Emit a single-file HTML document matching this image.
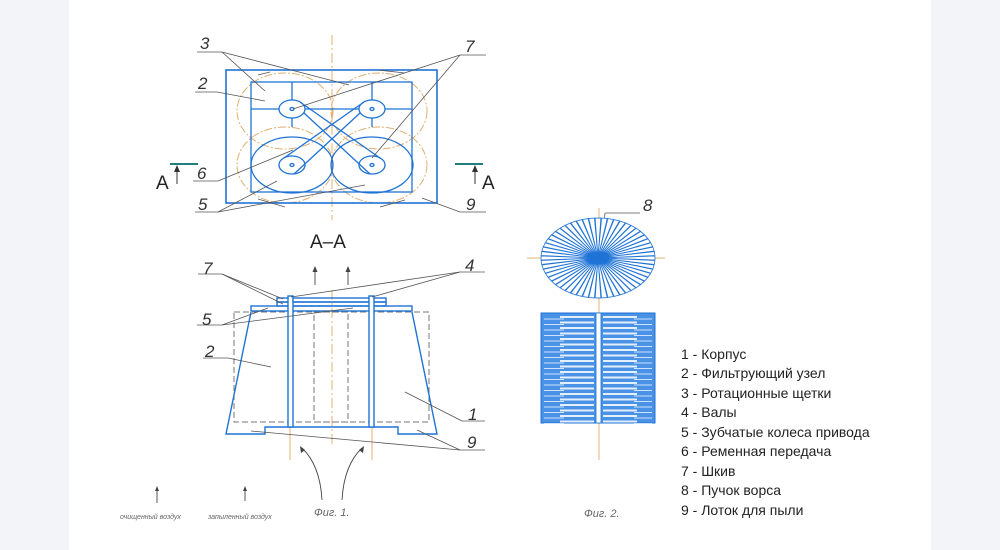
<!DOCTYPE html>
<html><head><meta charset="utf-8"><style>
html,body{margin:0;padding:0;background:#f3f4fa;}
#w{position:absolute;left:69px;top:0;width:862px;height:550px;background:#fff;}
svg{position:absolute;left:0;top:0;}
.t{font-family:"Liberation Sans",sans-serif;}
.n{font-family:"Liberation Sans",sans-serif;font-style:italic;font-size:17px;fill:#333;}
</style></head><body>
<div id="w"></div>
<svg width="1000" height="550" viewBox="0 0 1000 550">
<g fill="none" stroke-width="1">
<!-- top view orange circles -->
<g stroke="#e0b070" stroke-dasharray="8,2,2,2">
<ellipse cx="285" cy="111" rx="48" ry="38"/><ellipse cx="379" cy="111" rx="48" ry="38"/>
<ellipse cx="285" cy="165" rx="48" ry="38"/><ellipse cx="379" cy="165" rx="48" ry="38"/>
</g>
<line x1="332" y1="35" x2="332" y2="220" stroke="#e0b070" stroke-dasharray="10,3,2,3"/>
<g stroke="#1f73d6" stroke-width="1.3">
<rect x="226" y="70" width="211" height="133" stroke-width="1.6"/>
<rect x="251" y="82" width="161" height="110"/>
<line x1="251" y1="109" x2="412" y2="109"/>
<line x1="292" y1="82" x2="292" y2="127"/><line x1="372" y1="82" x2="372" y2="127"/>
<ellipse cx="292" cy="109" rx="13" ry="9" fill="#fff"/><ellipse cx="372" cy="109" rx="13" ry="9" fill="#fff"/>
<ellipse cx="292" cy="165" rx="41" ry="28"/><ellipse cx="372" cy="165" rx="41" ry="28"/>
<ellipse cx="292" cy="165" rx="13" ry="9"/><ellipse cx="372" cy="165" rx="13" ry="9"/>
<ellipse cx="292" cy="109" rx="2" ry="1.5"/><ellipse cx="372" cy="109" rx="2" ry="1.5"/>
<ellipse cx="292" cy="165" rx="2" ry="1.5"/><ellipse cx="372" cy="165" rx="2" ry="1.5"/>
<line x1="300" y1="102" x2="380" y2="158"/><line x1="304" y1="113" x2="370" y2="174"/>
<line x1="364" y1="102" x2="284" y2="158"/><line x1="360" y1="113" x2="294" y2="174"/>
</g>
<!-- section markers -->
<g stroke="#208080" stroke-width="2"><line x1="170" y1="164" x2="198" y2="164"/><line x1="455" y1="164" x2="483" y2="164"/></g>
<g stroke="#333"><line x1="177" y1="166" x2="177" y2="184"/><line x1="475" y1="166" x2="475" y2="184"/></g>
<path d="M177 165 l-3 7 h6z M475 165 l-3 7 h6z" fill="#333"/>
<!-- leader lines top -->
<g stroke="#555" stroke-width="0.8">
<line x1="197" y1="52" x2="222" y2="52"/><line x1="222" y1="52" x2="265" y2="91"/><line x1="222" y1="52" x2="349" y2="85"/>
<line x1="195" y1="92" x2="217" y2="92"/><line x1="217" y1="92" x2="265" y2="101"/>
<line x1="486" y1="55" x2="460" y2="55"/><line x1="460" y1="55" x2="293" y2="109"/><line x1="460" y1="55" x2="372" y2="158"/>
<line x1="193" y1="181" x2="218" y2="181"/><line x1="218" y1="181" x2="293" y2="150"/>
<line x1="195" y1="212" x2="218" y2="212"/><line x1="218" y1="212" x2="277" y2="181"/><line x1="218" y1="212" x2="365" y2="185"/>
<line x1="486" y1="212" x2="460" y2="212"/><line x1="460" y1="212" x2="422" y2="198"/>
<line x1="258" y1="75" x2="270" y2="72"/><line x1="378" y1="70" x2="405" y2="73"/>
<line x1="258" y1="199" x2="285" y2="207"/><line x1="380" y1="207" x2="405" y2="200"/>
</g>
<!-- section view -->
<line x1="332" y1="290" x2="332" y2="445" stroke="#e0b070" stroke-dasharray="10,3,2,3"/>
<g stroke="#e0b070"><line x1="290" y1="425" x2="290" y2="460"/><line x1="372" y1="425" x2="372" y2="460"/></g>
<g stroke="#777" stroke-dasharray="6,3">
<rect x="234" y="312" width="195" height="110"/><rect x="314" y="312" width="34" height="110"/>
</g>
<g stroke="#1f73d6" stroke-width="1.4">
<polyline points="251,312 226,434 265,434 265,427 398,427 398,434 437,434 412,312"/>
<rect x="251" y="306" width="161" height="5"/>
<rect x="277" y="298" width="109" height="4"/><rect x="277" y="302" width="109" height="4"/>
<rect x="288" y="296" width="5" height="131" fill="#fff"/><rect x="369" y="296" width="5" height="131" fill="#fff"/>
</g>
<g stroke="#444" stroke-width="0.9">
<line x1="315" y1="285" x2="315" y2="268"/><line x1="348" y1="285" x2="348" y2="268"/>
<path d="M322 500 Q320 465 302 448 M342 500 Q344 465 362 448"/>
<line x1="157" y1="503" x2="157" y2="488"/><line x1="245" y1="501" x2="245" y2="488"/>
</g>
<path d="M315 266 l-2.5 6 h5z M348 266 l-2.5 6 h5z M157 486 l-2 5 h4z M245 486 l-2 5 h4z M300 446 l1 7 l4 -3z M364 446 l-1 7 l-4 -3z" fill="#444"/>
<g stroke="#555" stroke-width="0.8">
<line x1="198" y1="274" x2="222" y2="274"/><line x1="222" y1="274" x2="283" y2="299"/><line x1="222" y1="274" x2="283" y2="304"/>
<line x1="485" y1="272" x2="460" y2="272"/><line x1="460" y1="272" x2="291" y2="297"/><line x1="460" y1="272" x2="372" y2="297"/>
<line x1="197" y1="325" x2="222" y2="325"/><line x1="222" y1="325" x2="268" y2="308"/><line x1="222" y1="325" x2="353" y2="308"/>
<line x1="203" y1="358" x2="228" y2="358"/><line x1="228" y1="358" x2="271" y2="367"/>
<line x1="485" y1="421" x2="462" y2="421"/><line x1="462" y1="421" x2="405" y2="392"/>
<line x1="485" y1="450" x2="460" y2="450"/><line x1="460" y1="450" x2="251" y2="431"/><line x1="460" y1="450" x2="417" y2="430"/>
<line x1="605" y1="213" x2="640" y2="213"/><line x1="605" y1="213" x2="604" y2="224"/>
</g>
<!-- fig 2 -->
<g stroke="#e0b070"><line x1="527" y1="258" x2="665" y2="258"/><line x1="599" y1="208" x2="599" y2="460"/></g>
<g id="rays" stroke="#1f73d6" stroke-width="0.8"></g>
<rect x="541" y="313" width="114" height="110" fill="#4a92e6" stroke="#1f73d6"/>
<g id="bars"></g>
<rect x="596" y="313" width="5" height="110" fill="#fff" stroke="#1f73d6" stroke-width="0.8"/>
</g>
<g class="n">
<text x="200" y="49">3</text><text x="198" y="89">2</text><text x="465" y="52">7</text>
<text x="197" y="179">6</text><text x="198" y="210">5</text><text x="466" y="210">9</text>
<text x="203" y="274">7</text><text x="465" y="271">4</text><text x="202" y="325">5</text>
<text x="205" y="357">2</text><text x="468" y="420">1</text><text x="467" y="448">9</text>
<text x="643" y="211">8</text>
</g>
<g class="t" fill="#222">
<text x="156" y="189" font-size="19">A</text><text x="482" y="189" font-size="19">A</text>
<text x="310" y="248" font-size="19">A–A</text>
</g>
<g class="t" font-style="italic" font-size="7" fill="#666">
<text x="120" y="519">очищенный воздух</text><text x="208" y="519">запыленный воздух</text>
</g>
<g class="t" font-style="italic" font-size="11" fill="#666">
<text x="314" y="516">Фиг. 1.</text><text x="584" y="517">Фиг. 2.</text>
</g>
<g class="t" font-size="14" fill="#222">
<text x="681" y="359">1 - Корпус</text>
<text x="681" y="378">2 - Фильтрующий узел</text>
<text x="681" y="398">3 - Ротационные щетки</text>
<text x="681" y="417">4 - Валы</text>
<text x="681" y="437">5 - Зубчатые колеса привода</text>
<text x="681" y="456">6 - Ременная передача</text>
<text x="681" y="476">7 - Шкив</text>
<text x="681" y="495">8 -  Пучок ворса</text>
<text x="681" y="515">9 - Лоток для пыли</text>
</g>
</svg>
<script>
var ns="http://www.w3.org/2000/svg",r=document.getElementById("rays"),s="";
for(var i=0;i<56;i++){var a=i/56*2*Math.PI,b=a+0.05,c=a-0.05;
s+='<path d="M598 258 L'+(598+57*Math.cos(c))+' '+(258+40*Math.sin(c))+' L'+(598+57*Math.cos(b))+' '+(258+40*Math.sin(b))+' Z" fill="#fff"/>';}
r.innerHTML=s;
var g=document.getElementById("bars"),t="";
for(var y=316;y<421;y+=5.5){t+='<rect x="560" y="'+y+'" width="34" height="2" fill="#fff" opacity="0.85"/><rect x="603" y="'+y+'" width="34" height="2" fill="#fff" opacity="0.85"/><rect x="544" y="'+(y+2.5)+'" width="20" height="1" fill="#cfe2fa"/><rect x="634" y="'+(y+2.5)+'" width="18" height="1" fill="#cfe2fa"/>';}
g.innerHTML=t;
</script>
</body></html>
